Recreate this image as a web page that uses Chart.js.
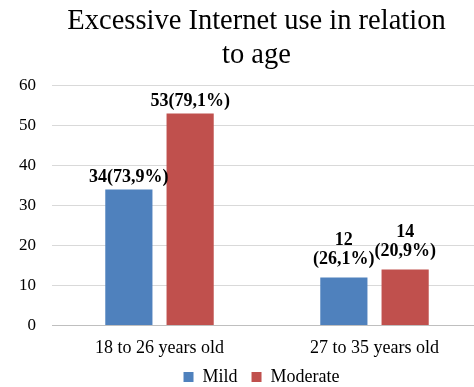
<!DOCTYPE html>
<html>
<head>
<meta charset="utf-8">
<script src="https://cdn.jsdelivr.net/npm/chart.js@4"></script>
<style>
  html, body { margin: 0; padding: 0; background: #fff; }
  #wrap { width: 474px; height: 387px; }
</style>
</head>
<body>
<div id="wrap"><canvas id="graph" width="474" height="387"></canvas></div>
<script>
const categories = ['18 to 26 years old', '27 to 35 years old'];
const mild = [34, 12];
const moderate = [53, 14];
const mildLabels = [['34(73,9%)'], ['12', '(26,1%)']];
const moderateLabels = [['53(79,1%)'], ['14', '(20,9%)']];
const yTicks = [0, 10, 20, 30, 40, 50, 60];

const serif = '"Liberation Serif", "Times New Roman", serif';

// draws the value labels above each bar
const barLabels = {
  id: 'barLabels',
  afterDatasetsDraw(chart) {
    const c = chart.ctx;
    c.save();
    c.font = 'bold 18px ' + serif;
    c.fillStyle = '#000';
    c.textAlign = 'center';
    c.textBaseline = 'bottom';
    chart.data.datasets.forEach((ds, i) => {
      chart.getDatasetMeta(i).data.forEach((bar, j) => {
        const lines = ds.valueLabels[j];
        const base = bar.y - 3 - (lines.length > 1 ? 6 : 0);
        lines.forEach((t, k) => {
          c.fillText(t, bar.x, base - (lines.length - 1 - k) * 19);
        });
      });
    });
    c.restore();
  }
};

// title and legend sit a bit right of the canvas centre,
// and the plot runs a little past the right edge (cropped original)
const shiftBoxes = {
  id: 'shiftBoxes',
  afterLayout(chart) {
    if (chart.titleBlock) { chart.titleBlock.left += 18; chart.titleBlock.right += 18; }
    if (chart.legend) { chart.legend.left += 23; chart.legend.right += 23; }
    const x = chart.scales.x;
    x.right += 8;
    x.width += 8;
    x.configure();
    chart.chartArea.right += 8;
    chart.chartArea.width += 8;
  }
};

new Chart(document.getElementById('graph').getContext('2d'), {
  type: 'bar',
  data: {
    labels: categories,
    datasets: [
      { label: 'Mild', data: mild, valueLabels: mildLabels, backgroundColor: '#4F81BD' },
      { label: 'Moderate', data: moderate, valueLabels: moderateLabels, backgroundColor: '#C0504D' }
    ]
  },
  options: {
    responsive: false,
    animation: false,
    categoryPercentage: 0.57,
    barPercentage: 0.77,
    layout: { padding: { left: 3, right: 0, top: 0, bottom: -9 } },
    plugins: {
      title: {
        display: true,
        text: ['Excessive Internet use in relation', 'to age'],
        font: { family: serif, size: 28.5, weight: 'normal' },
        color: '#000',
        padding: { top: 4, bottom: 13 },
        lineHeight: 1.05
      },
      legend: {
        position: 'bottom',
        labels: {
          font: { family: serif, size: 18 },
          color: '#000',
          boxWidth: 10,
          boxHeight: 10,
          padding: 5,
          generateLabels(chart) {
            const items = Chart.defaults.plugins.legend.labels.generateLabels(chart);
            items[0].text += '\u00a0\u00a0';
            return items;
          }
        }
      },
      tooltip: { enabled: false }
    },
    scales: {
      x: {
        grid: { display: false },
        border: { color: '#bfbfbf', width: 1 },
        ticks: { font: { family: serif, size: 18 }, color: '#000', padding: 4 }
      },
      y: {
        min: 0,
        max: 60,
        afterBuildTicks(axis) { axis.ticks = yTicks.map(v => ({ value: v })); },
        grid: { color: '#d9d9d9', drawTicks: false },
        border: { display: false },
        ticks: { font: { family: serif, size: 17 }, color: '#000', padding: 16 }
      }
    }
  },
  plugins: [barLabels, shiftBoxes]
});
</script>
</body>
</html>
